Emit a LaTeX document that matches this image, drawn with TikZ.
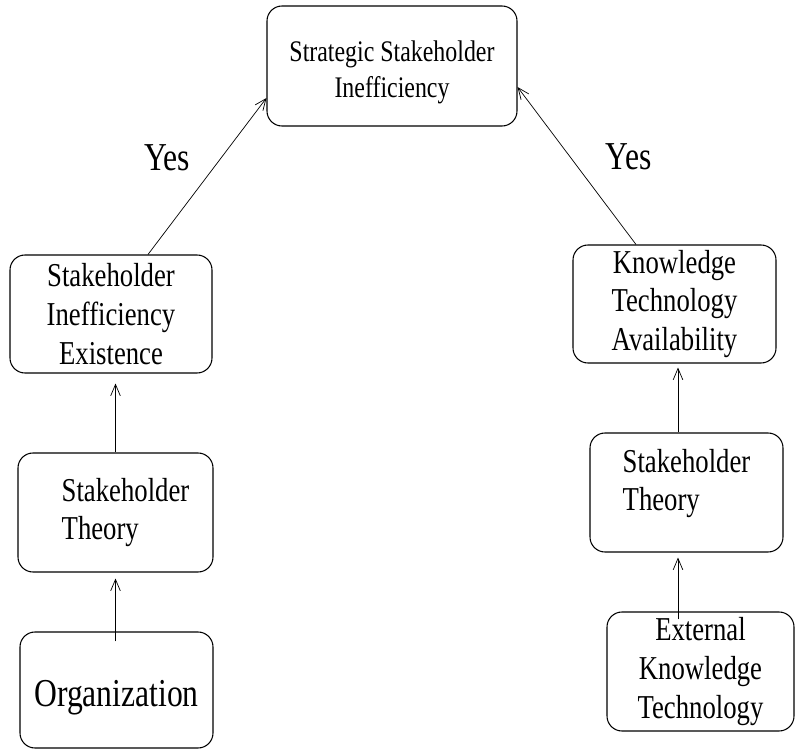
\documentclass[tikz,border=0pt]{standalone}
\usepackage{fontspec}
\setmainfont{Liberation Serif}[FakeStretch = 0.8]
\usepackage{tikz}
\usetikzlibrary{arrows.meta}

\begin{document}
\begin{tikzpicture}[>={Straight Barb[length = 6.5pt, width = 5.5pt]}, box/.style = {draw, line width = .6pt, rounded corners = .3cm, align = center, inner sep = 0pt, font = \fontsize{19}{22}\selectfont}, yes/.style = {font = \fontsize{22.5}{27}\selectfont}]
\useasboundingbox (0,0) rectangle (15.9,15);
	\node [box, minimum width = 5cm, minimum height = 2.4cm, font = \fontsize{17}{20}\selectfont, text height = 39pt] (ssi) at (7.84,13.68) {Strategic Stakeholder\\Inefficiency};
	\node [box, minimum width = 4.04cm, minimum height = 2.36cm] (sie) at (2.22,8.72) {Stakeholder\\Inefficiency\\Existence};
	\node [box, minimum width = 3.9cm, minimum height = 2.38cm, align = left] (sth) at (2.31,4.75) {\hspace*{.4cm}Stakeholder\\\hspace*{.4cm}Theory};
	\node [box, minimum width = 3.86cm, minimum height = 2.32cm, font = \fontsize{22.5}{27}\selectfont, text height = 24pt] (org) at (2.33,1.2) {Organization};
	\node [box, minimum width = 4.06cm, minimum height = 2.36cm] (kta) at (13.49,8.92) {Knowledge\\Technology\\Availability};
	\node [box, minimum width = 3.86cm, minimum height = 2.38cm, align = left, text depth = .5cm] (kth) at (13.73,5.15) {Stakeholder\\Theory};
	\node [box, minimum width = 3.74cm, minimum height = 2.38cm] (ekt) at (14.01,1.57) {External\\Knowledge\\Technology};
	\coordinate (rx) at (13.56,0);
	\draw [->, thin] ([xshift = .74cm]sie.north) -- ([yshift = -.64cm]ssi.west) node [left = .5cm, pos = .62, yes] {Yes};
	\draw [->, thin] ([xshift = -.77cm]kta.north) -- ([yshift = -.42cm]ssi.east) node [right = .6cm, pos = .56, yes] {Yes};
	\draw [->, thin, shorten > = .2cm] (sth.north) -- (sth.north |- sie.south);
	\draw [->, thin, shorten > = .12cm, shorten < = -.2cm] (org.north -| sth) -- (sth.south);
	\draw [->, thin, shorten > = .08cm] (kth.north -| rx) -- (kta.south -| rx);
	\draw [->, thin, shorten > = .1cm, shorten < = -.16cm] (ekt.north -| rx) -- (kth.south -| rx);
\end{tikzpicture}
\end{document}
